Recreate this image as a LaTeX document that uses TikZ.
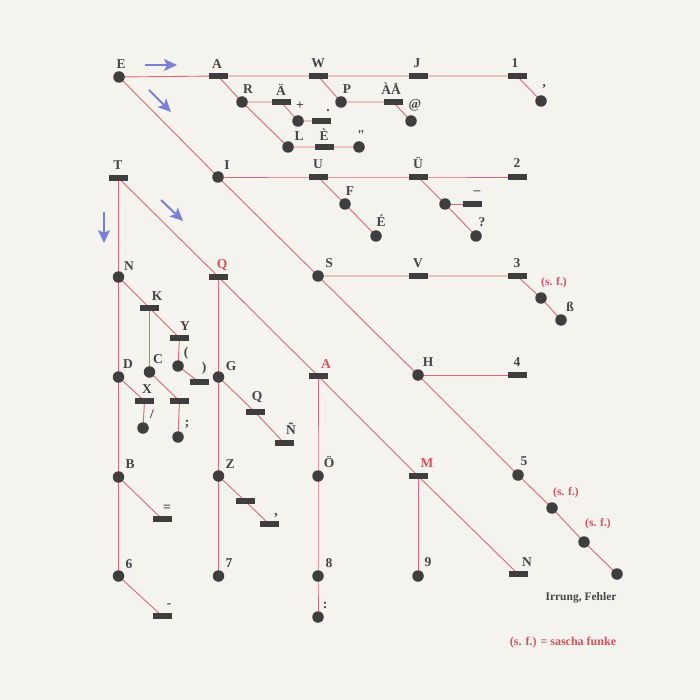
\documentclass[tikz,border=0pt]{standalone}
\usepackage{fontspec}
\setmainfont{Liberation Serif}
\usetikzlibrary{arrows.meta}
\definecolor{bgc}{HTML}{F4F3EE}
\definecolor{dotc}{HTML}{3E3E3E}
\definecolor{labc}{HTML}{444444}
\definecolor{redc}{HTML}{D8505A}
\definecolor{linec}{HTML}{E06870}
\definecolor{arrc}{HTML}{7A7ED6}
\pgfdeclarelayer{bg}\pgfdeclarelayer{edges}
\pgfsetlayers{bg,edges,main}
\tikzset{
  dotn/.style={circle,fill=dotc,inner sep=0pt,minimum size=11.5pt},
  dashn/.style={rectangle,fill=dotc,inner sep=0pt,minimum width=19pt,minimum height=5.5pt},
  lab/.style={font=\fontsize{13.5}{14}\selectfont\bfseries,text=labc,inner sep=0pt},
  redlab/.style={lab,text=redc},
  sflab/.style={font=\fontsize{11.5}{12}\selectfont\bfseries,text=redc,inner sep=0pt},
  edge/.style={draw=linec,line width=0.9pt},
  bluearrow/.style={draw=arrc,line width=2pt,-{Stealth[length=13pt,width=12pt,inset=3pt]}}
}
\begin{document}
\begin{tikzpicture}[x=1pt,y=-1pt]
\begin{pgfonlayer}{bg}
\fill[bgc] (0,0) rectangle (700,700);
\end{pgfonlayer}
\useasboundingbox (0,0) rectangle (700,700);
% ---- symbols ----
\node[dotn] (E) at (119,77) {};
\node[dashn] (A) at (218,76) {};
\node[dashn] (W) at (318,76) {};
\node[dashn] (J) at (418,76) {};
\node[dashn] (one) at (517,76) {};
\node[dotn] (apos) at (541,101) {};
\node[dotn] (R) at (242,102) {};
\node[dashn] (Ae) at (281,102) {};
\node[dotn] (plus) at (298,121) {};
\node[dashn] (period) at (321,121) {};
\node[dotn] (L) at (288,147) {};
\node[dashn] (Eg) at (324,147) {};
\node[dotn] (quot) at (359,147) {};
\node[dotn] (P) at (341,102) {};
\node[dashn] (AA) at (393,102) {};
\node[dotn] (at) at (411,121) {};
\node[dashn] (T) at (118.5,178) {};
\node[dotn] (I) at (218,177) {};
\node[dashn] (U) at (318,177) {};
\node[dashn] (Ue) at (418,177) {};
\node[dashn] (two) at (517,177) {};
\node[dotn] (F) at (345,204) {};
\node[dotn] (Eac) at (376,236) {};
\node[dotn] (ueb) at (445,204) {};
\node[dashn] (under) at (472,204) {};
\node[dotn] (quest) at (476,236) {};
\node[dotn] (N) at (118.5,277) {};
\node[dashn] (Q) at (218.5,277) {};
\node[dotn] (S) at (318,276) {};
\node[dashn] (V) at (418,276) {};
\node[dashn] (three) at (517,276) {};
\node[dotn] (sfa) at (541,298) {};
\node[dotn] (sz) at (561,320) {};
\node[dashn] (K) at (149.5,308) {};
\node[dashn] (Y) at (179.5,338) {};
\node[dotn] (lpar) at (178,366) {};
\node[dashn] (rpar) at (199,382) {};
\node[dotn] (C) at (149.5,372) {};
\node[dotn] (D) at (118.5,377) {};
\node[dashn] (X) at (144.5,401) {};
\node[dotn] (slash) at (143,428) {};
\node[dashn] (semid) at (179.5,401) {};
\node[dotn] (semi) at (178,437) {};
\node[dotn] (G) at (218.5,377) {};
\node[dashn] (Qd) at (255,412) {};
\node[dashn] (Nt) at (284,443) {};
\node[dashn] (A2) at (318,376) {};
\node[dotn] (H) at (418,375) {};
\node[dashn] (four) at (517,375) {};
\node[dotn] (B) at (118.5,477) {};
\node[dashn] (eq) at (162,519) {};
\node[dotn] (six) at (118.5,576) {};
\node[dashn] (minus) at (162,616) {};
\node[dotn] (Z) at (218.5,476) {};
\node[dashn] (zb) at (245,501) {};
\node[dashn] (comma) at (269,524) {};
\node[dotn] (seven) at (218.5,576) {};
\node[dotn] (Oe) at (318,476) {};
\node[dashn] (M) at (418,476) {};
\node[dotn] (five) at (518,475) {};
\node[dotn] (sf1) at (552,508) {};
\node[dotn] (sf2) at (584,542) {};
\node[dotn] (fin) at (617,574) {};
\node[dotn] (eight) at (318,576) {};
\node[dotn] (colon) at (318,617) {};
\node[dotn] (nine) at (418,576) {};
\node[dashn] (Nn) at (518,574) {};
% ---- connectors ----
\begin{pgfonlayer}{edges}
\draw[edge] (E.center) -- (A.center) -- (W.center) -- (J.center) -- (one.center) -- (apos.center);
\draw[edge] (A.center) -- (R.center) -- (Ae.center) -- (plus.center) -- (period.center);
\draw[edge] (R.center) -- (L.center) -- (Eg.center) -- (quot.center);
\draw[edge] (W.center) -- (P.center) -- (AA.center) -- (at.center);
\draw[edge] (E.center) -- (I.center) -- (S.center) -- (H.center) -- (five.center) -- (sf1.center) -- (sf2.center) -- (fin.center);
\draw[edge] (I.center) -- (U.center) -- (Ue.center) -- (two.center);
\draw[edge] (U.center) -- (F.center) -- (Eac.center);
\draw[edge] (Ue.center) -- (ueb.center) -- (quest.center);
\draw[edge] (ueb.center) -- (under.center);
\draw[edge] (S.center) -- (V.center) -- (three.center) -- (sfa.center) -- (sz.center);
\draw[edge] (H.center) -- (four.center);
\draw[edge] (T.center) -- (N.center) -- (D.center) -- (B.center) -- (six.center);
\draw[edge] (T.center) -- (Q.center) -- (A2.center) -- (M.center) -- (Nn.center);
\draw[edge] (N.center) -- (K.center) -- (Y.center) -- (lpar.center) -- (rpar.center);
\draw[edge] (K.center) -- (C.center) -- (semid.center) -- (semi.center);
\draw[edge] (D.center) -- (X.center) -- (slash.center);
\draw[edge] (B.center) -- (eq.center);
\draw[edge] (six.center) -- (minus.center);
\draw[edge] (Q.center) -- (G.center) -- (Z.center) -- (seven.center);
\draw[edge] (G.center) -- (Qd.center) -- (Nt.center);
\draw[edge] (Z.center) -- (zb.center) -- (comma.center);
\draw[edge] (A2.center) -- (Oe.center) -- (eight.center) -- (colon.center);
\draw[edge] (M.center) -- (nine.center);
\end{pgfonlayer}
% ---- arrows ----
\coordinate (ar1s) at (145,65); \coordinate (ar1e) at (177,65);
\coordinate (ar2s) at (149,90); \coordinate (ar2e) at (171,112);
\coordinate (ar3s) at (104,212); \coordinate (ar3e) at (104,243);
\coordinate (ar4s) at (161,200); \coordinate (ar4e) at (183,221);
\draw[bluearrow] (ar1s) -- (ar1e);
\draw[bluearrow] (ar2s) -- (ar2e);
\draw[bluearrow] (ar3s) -- (ar3e);
\draw[bluearrow] (ar4s) -- (ar4e);
% ---- labels ----
\node[lab] (lE) at (121,64) {E};
\node[lab] (lA) at (217,64) {A};
\node[lab] (lW) at (318,63) {W};
\node[lab] (lJ) at (417,63) {J};
\node[lab] (l1) at (515,63) {1};
\node[lab] (lapos) at (544,89) {'};
\node[lab] (lR) at (248,89) {R};
\node[lab] (lAe) at (281,90) {Ä};
\node[lab] (lplus) at (300,106) {+};
\node[lab] (lper) at (328,111) {.};
\node[lab] (lL) at (299,136) {L};
\node[lab] (lEg) at (324,135) {È};
\node[lab] (lquot) at (361,135) {\textquotedbl};
\node[lab] (lP) at (347,89) {P};
\node[lab] (lAA) at (391,89) {ÀÅ};
\node[lab] (lat) at (415,105) {@};
\node[lab] (lT) at (118,165) {T};
\node[lab] (lI) at (227,165) {I};
\node[lab] (lU) at (318,164) {U};
\node[lab] (lUe) at (418,163) {Ü};
\node[lab] (l2) at (517,163) {2};
\node[lab] (lF) at (350,191) {F};
\node[lab] (lEac) at (381,221) {É};
\node[lab] (lunder) at (477,193) {–};
\node[lab] (lquest) at (482,222) {?};
\node[lab] (lN) at (129,266) {N};
\node[redlab] (lQ) at (222,265) {Q};
\node[lab] (lS) at (329,263) {S};
\node[lab] (lV) at (418,263) {V};
\node[lab] (l3) at (517,263) {3};
\node[sflab] (lsfa) at (554,283) {(s. f.)};
\node[lab] (lsz) at (570,307) {ß};
\node[lab] (lK) at (157,296) {K};
\node[lab] (lY) at (185,326) {Y};
\node[lab] (llpar) at (186,353) {(};
\node[lab] (lrpar) at (204,368) {)};
\node[lab] (lC) at (158,359) {C};
\node[lab] (lD) at (128,364) {D};
\node[lab] (lX) at (147,389) {X};
\node[lab] (lslash) at (152,414) {/};
\node[lab] (lsemi) at (187,424) {;};
\node[lab] (lG) at (231,366) {G};
\node[lab] (lQd) at (257,397) {Q};
\node[lab] (lNt) at (291,429) {Ñ};
\node[redlab] (lA2) at (326,364) {A};
\node[lab] (lH) at (428,362) {H};
\node[lab] (l4) at (517,362) {4};
\node[lab] (lB) at (130,464) {B};
\node[lab] (leq) at (167,508) {=};
\node[lab] (l6) at (129,564) {6};
\node[lab] (lminus) at (169,606) {-};
\node[lab] (lZ) at (230,464) {Z};
\node[lab] (lcomma) at (276,516) {,};
\node[lab] (l7) at (229,563) {7};
\node[lab] (lOe) at (329,462) {Ö};
\node[redlab] (lM) at (427,463) {M};
\node[lab] (l5) at (524,461) {5};
\node[sflab] (lsf1) at (566,493) {(s. f.)};
\node[sflab] (lsf2) at (598,524) {(s. f.)};
\node[lab] (l8) at (329,563) {8};
\node[lab] (lcolon) at (325,605) {:};
\node[lab] (l9) at (428,562) {9};
\node[lab] (lNn) at (527,562) {N};
\node[font=\fontsize{11.5}{12}\selectfont\bfseries,text=labc,inner sep=0pt] (irr) at (581,598) {Irrung, Fehler};
\node[font=\fontsize{12}{13}\selectfont\bfseries,text=redc,inner sep=0pt] (legend) at (563,643) {(s. f.) = sascha funke};
\end{tikzpicture}
\end{document}
